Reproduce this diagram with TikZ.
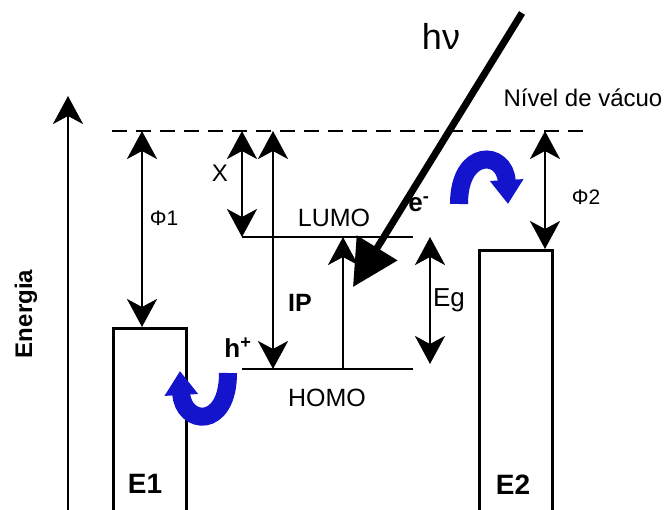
\documentclass[tikz,border=0pt]{standalone}
\usepackage{fontspec}
\setmainfont{Liberation Sans}
\usetikzlibrary{arrows.meta}

\begin{document}
\begin{tikzpicture}[
  x=1pt, y=-1pt,
  level/.style={line width=2.6pt},
  dbl/.style={{Stealth[length=28pt,width=30pt,inset=8pt]}-{Stealth[length=28pt,width=30pt,inset=8pt]}, line width=2.8pt},
  sgl/.style={-{Stealth[length=28pt,width=30pt,inset=8pt]}, line width=2.8pt},
  electrode/.style={draw, line width=2.6pt, minimum width=73pt, minimum height=200pt, inner sep=0pt, anchor=north west},
  hop/.style={draw=hopblue, line width=18pt, -{Triangle[length=24pt,width=32pt]}},
  lbl/.style={font=\fontsize{24}{28}\selectfont, inner sep=0pt},
  blbl/.style={font=\fontsize{26}{30}\selectfont\bfseries, inner sep=0pt}
]
\definecolor{hopblue}{RGB}{20,20,205}
\useasboundingbox (0,0) rectangle (672,510);

% vacuum level and molecular levels
\coordinate (vacL) at (112,131);
\coordinate (vacR) at (587,131);
\coordinate (lumoL) at (242,237);
\coordinate (lumoR) at (413,237);
\coordinate (homoL) at (242,369);
\coordinate (homoR) at (413,369);
\draw[level, dash pattern=on 15pt off 9pt] (vacL) -- (vacR);
\draw[level] (lumoL) -- (lumoR);
\draw[level] (homoL) -- (homoR);

% electrodes
\node[electrode] (E1) at (112,327) {};
\node[electrode, minimum height=280pt] (E2) at (478,249) {};
\node[blbl, font=\fontsize{28}{30}\selectfont\bfseries] (E1lbl) at (145,484) {E1};
\node[blbl, font=\fontsize{28}{30}\selectfont\bfseries] (E2lbl) at (513,485) {E2};

% energy axis
\coordinate (axB) at (68,515);
\coordinate (axT) at (68,96);
\draw[sgl] (axB) -- (axT);
\node[font=\fontsize{24}{26}\selectfont\bfseries, rotate=90, inner sep=0pt] (en) at (26,314) {Energia};

% work functions, affinity, ionisation, gap
\coordinate (p1T) at (142,131);
\coordinate (p1B) at (142,327);
\draw[dbl] (p1T) -- (p1B);
\node[lbl, font=\fontsize{21}{24}\selectfont] (phi1) at (164,218) {Φ1};

\coordinate (xT) at (242,131);
\draw[dbl] (xT) -- (lumoL);
\node[lbl] (chi) at (220,173) {X};

\coordinate (ipT) at (273,131);
\coordinate (ipB) at (273,369);
\draw[dbl] (ipT) -- (ipB);
\node[blbl, font=\fontsize{25}{28}\selectfont\bfseries] (ip) at (300,303) {IP};

\coordinate (egT) at (430,237);
\coordinate (egB) at (430,364);
\draw[dbl] (egT) -- (egB);
\node[lbl, font=\fontsize{26}{28}\selectfont] (eg) at (449,300) {Eg};

\coordinate (p2T) at (545,131);
\draw[dbl] (p2T) -- (p2T |- E2.north);
\node[lbl, font=\fontsize{21}{24}\selectfont] (phi2) at (586,197) {Φ2};

% excitation
\coordinate (exB) at (343,369);
\coordinate (exT) at (343,237);
\draw[sgl] (exB) -- (exT);

% photon
\coordinate (hvS) at (522,13);
\coordinate (hvE) at (353,287);
\draw[line width=7pt, -{Triangle[length=46pt,width=46pt]}] (hvS) -- (hvE);
\node[lbl, font=\fontsize{36}{38}\selectfont] (hv) at (441,36) {hν};

% level labels
\node[lbl, font=\fontsize{25}{28}\selectfont] (lumo) at (334,218) {LUMO};
\node[lbl, font=\fontsize{25}{28}\selectfont] (homo) at (327,398) {HOMO};
\node[lbl] (vac) at (583,98) {Nível de vácuo};
\node[blbl] (hplus) at (238,348) {h\textsuperscript{+}};
\node[blbl] (eminus) at (419,204) {e\textsuperscript{-}};

% charge transfer
\coordinate (h1S) at (228,373);
\coordinate (h1E) at (180,371);
\draw[hop] (h1S) .. controls (228,430) and (183,425) .. (h1E);
\coordinate (h2S) at (459,204);
\coordinate (h2E) at (508,204);
\draw[hop] (h2S) .. controls (459,148) and (505,150) .. (h2E);
\end{tikzpicture}
\end{document}
